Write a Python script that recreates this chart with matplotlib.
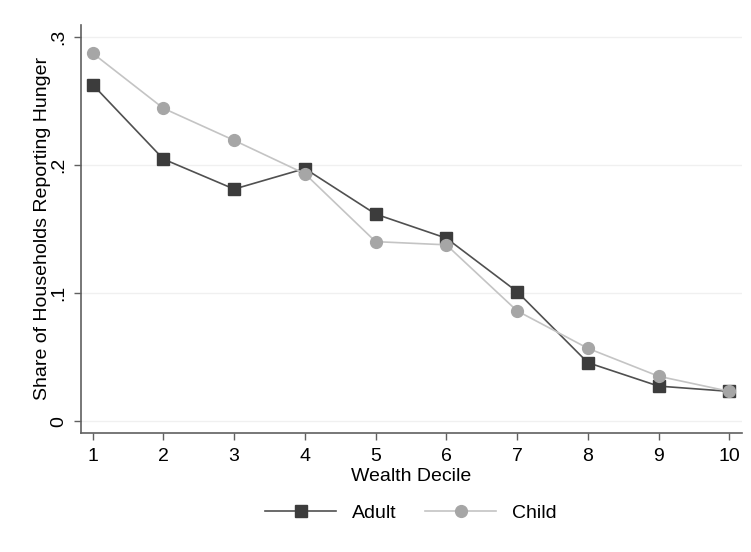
import matplotlib
matplotlib.use("Agg")
import matplotlib.pyplot as plt
from matplotlib.lines import Line2D

plt.rcParams['font.family'] = ['Liberation Sans', 'DejaVu Sans']

deciles = [1, 2, 3, 4, 5, 6, 7, 8, 9, 10]
adult = [0.2625, 0.2044, 0.181, 0.197, 0.1615, 0.1427, 0.101, 0.0456, 0.0273, 0.0232]
child = [0.287, 0.244, 0.219, 0.193, 0.140, 0.1375, 0.086, 0.0568, 0.035, 0.0232]
yticks = [0, 0.1, 0.2, 0.3]
ytick_labels = ['0', '.1', '.2', '.3']

fig = plt.figure(figsize=(7.51, 5.52), dpi=100)
ax = fig.add_axes([81/751, 1-432.5/552, (742-81)/751, (432.5-25)/552])

adult_line_c = '#505050'
adult_mark_c = '#3c3c3c'
child_line_c = '#c4c4c4'
child_mark_c = '#a6a6a6'

ax.plot(deciles, adult, color=adult_line_c, lw=1.2, marker='s', ms=8.5,
        mfc=adult_mark_c, mec=adult_mark_c, zorder=3, label='Adult')
ax.plot(deciles, child, color=child_line_c, lw=1.2, marker='o', ms=8.5,
        mfc=child_mark_c, mec=child_mark_c, zorder=4, label='Child')

ax.set_xlim(0.835, 10.18)
ax.set_ylim(-0.0089, 0.309)
ax.set_xticks(deciles)
ax.set_yticks(yticks)
ax.set_yticklabels(ytick_labels, rotation=90, va='center')
ax.grid(axis='y', color='#f0f0f0', lw=1.0)
ax.set_axisbelow(True)
for s in ['top', 'right']:
    ax.spines[s].set_visible(False)
for s in ['left', 'bottom']:
    ax.spines[s].set_color('#606060')
    ax.spines[s].set_linewidth(1.2)
ax.tick_params(axis='both', colors='#606060', labelcolor='black', labelsize=14, length=5, width=1.0)
ax.tick_params(axis='x', pad=6)
ax.tick_params(axis='y', pad=5)

ax.set_xlabel('Wealth Decile', fontsize=14, labelpad=2)
ax.set_ylabel('Share of Households Reporting Hunger', fontsize=14, labelpad=-1)

handles = [Line2D([], [], color=adult_line_c, lw=1.2, marker='s', ms=8.5, mfc=adult_mark_c, mec=adult_mark_c),
           Line2D([], [], color=child_line_c, lw=1.2, marker='o', ms=8.5, mfc=child_mark_c, mec=child_mark_c)]
fig.legend(handles, ['Adult', 'Child'], loc='center', bbox_to_anchor=(411/751, 1-513/552),
           ncol=2, frameon=False, fontsize=14, handlelength=3.65, columnspacing=1.45, handletextpad=0.82)

fig.savefig('out.png', dpi=100)
